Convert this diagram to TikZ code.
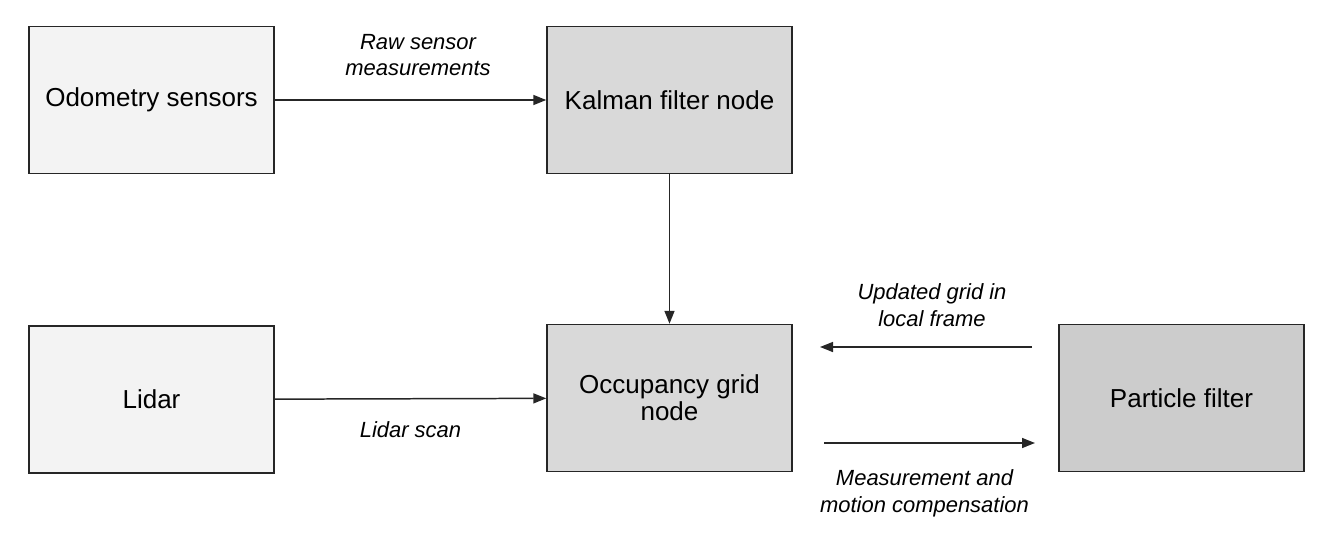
\documentclass[tikz,border=0pt]{standalone}
\usepackage{fontspec}
\setmainfont{Liberation Sans}
\usetikzlibrary{arrows.meta}

\definecolor{sensorgray}{HTML}{F3F3F3}
\definecolor{nodegray}{HTML}{D9D9D9}
\definecolor{filtergray}{HTML}{CCCCCC}

\tikzset{
  block/.style={draw=black!85, line width=0.85pt, minimum width=4.9cm,
    minimum height=2.94cm, inner sep=0pt, align=center,
    font=\fontsize{14.8}{15.5}\selectfont},
  flowtext/.style={align=center, inner sep=0pt,
    font=\fontsize{12.5}{15.2}\selectfont\itshape},
  link/.style={draw=black!85, line width=0.85pt,
    -{Triangle[length=0.26cm,width=0.2cm]}}
}

\begin{document}
\begin{tikzpicture}[x=0.02cm,y=-0.02cm]
    \useasboundingbox (0,0) rectangle (1340,534);
    % boxes
    \node[block,fill=sensorgray](odo) at (151.5,100) {Odometry sensors};
    \node[block,fill=nodegray](kalman) at (669.5,100) {Kalman filter node};
    \node[block,fill=sensorgray](lidar) at (151.5,399.5) {Lidar};
    \node[block,fill=nodegray](grid) at (669.5,398) {Occupancy grid\\node};
    \node[block,fill=filtergray](particle) at (1181.5,398) {Particle filter};
    % free arrow ends
    \coordinate(upd1) at (1032,347);
    \coordinate(upd2) at (820,347);
    \coordinate(meas1) at (824,443);
    \coordinate(meas2) at (1035,443);
    % labels
    \node[flowtext](raw) at (418,55) {Raw sensor\\measurements};
    \node[flowtext](scan) at (410.5,430) {Lidar scan};
    \node[flowtext](upd) at (932,305.5) {Updated grid in\\local frame};
    \node[flowtext](meas) at (924.5,493.5) {Measurement and\\motion compensation};
    % connectors
    \draw[link] (odo) -- (kalman);
    \draw[link] (kalman) -- (grid);
    \draw[link] (lidar) -- (grid);
    \draw[link] (upd1) -- (upd2);
    \draw[link] (meas1) -- (meas2);
\end{tikzpicture}
\end{document}
